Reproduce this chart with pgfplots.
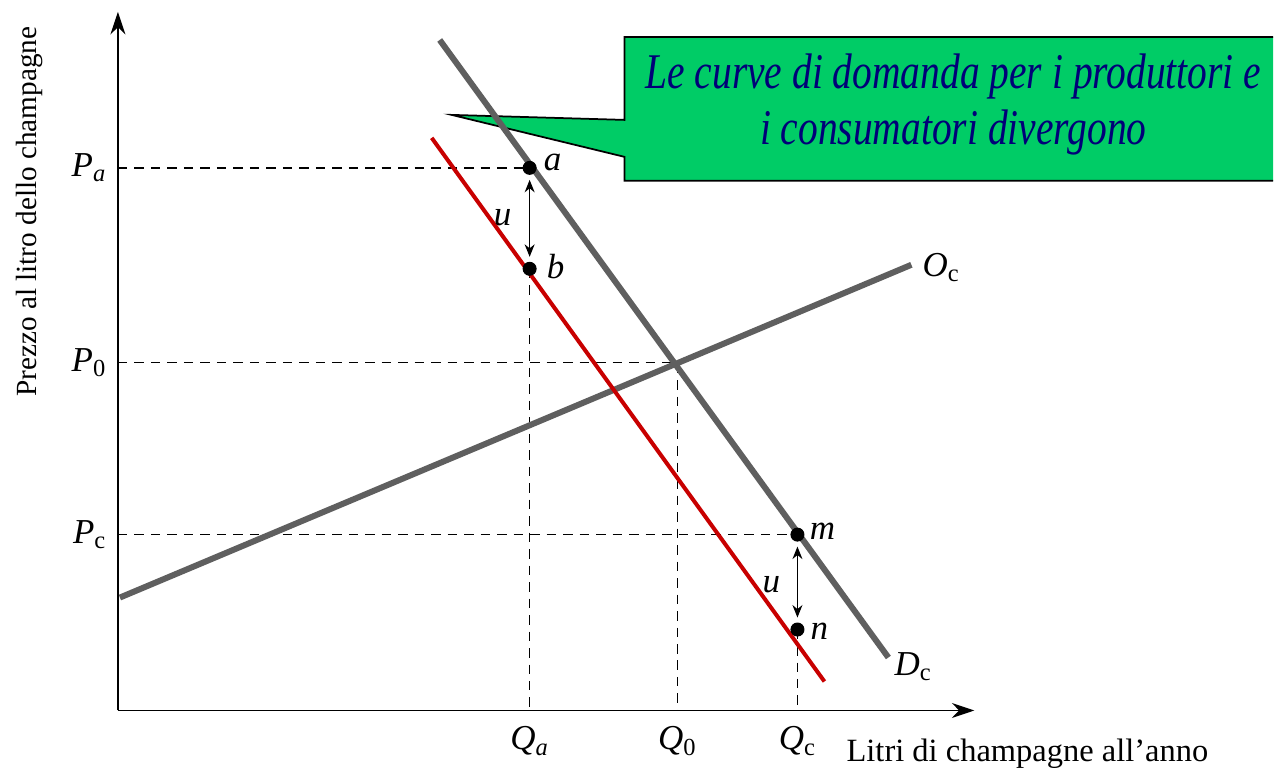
\documentclass[border=0pt]{standalone}
\usepackage{pgfplots}
\pgfplotsset{compat=1.18}
\usepackage{fontspec}
\setmainfont{Liberation Serif}
\usetikzlibrary{arrows.meta}
\definecolor{calloutgreen}{RGB}{0,204,102}
\definecolor{curvegray}{RGB}{95,95,95}
\definecolor{curvered}{RGB}{200,0,0}
\definecolor{textnavy}{RGB}{0,0,120}
\begin{document}
\begin{tikzpicture}
\begin{axis}[
  scale only axis,
  width=342.8pt, height=279.6pt,
  xmin=0, xmax=857, ymin=0, ymax=699,
  axis lines=left,
  axis line style={line width=0.6pt, -{Stealth[length=9pt,width=6pt]}},
  clip=false,
  xtick={412,560,680},
  xticklabels={\textit{Q}\textsubscript{\textit{a}}, \textit{Q}\textsubscript{0}, \textit{Q}\textsubscript{c}},
  ytick={176,348,543},
  yticklabels={\textit{P}\textsubscript{c}, \textit{P}\textsubscript{0}, \textit{P}\textsubscript{\textit{a}}},
  major tick length=0pt,
  tick label style={font=\fontsize{14}{16}\selectfont},
  xticklabel style={yshift=-3pt},
  yticklabel style={xshift=-1pt},
  xlabel={Litri di champagne all’anno},
  xlabel style={at={(axis description cs:1.062,-0.062)}, anchor=center, font=\fontsize{13}{15}\selectfont},
  ylabel={Prezzo al litro dello champagne},
  ylabel style={at={(axis description cs:-0.103,0.714)}, anchor=center, font=\fontsize{11.7}{14}\selectfont},
]
% bounding region
\path (axis cs:-118,-57) rectangle (axis cs:1156,711);
% callout
\fill[calloutgreen] (axis cs:507,674) -- (axis cs:1156,674) -- (axis cs:1156,530) -- (axis cs:507,530) -- (axis cs:507,554) -- (axis cs:334,596) -- (axis cs:507,591) -- cycle;
\draw[black, line width=0.7pt] (axis cs:1156,674) -- (axis cs:507,674) -- (axis cs:507,591) -- (axis cs:334,596) -- (axis cs:507,554) -- (axis cs:507,530) -- (axis cs:1156,530);
\node[textnavy, align=center, xscale=0.79, transform shape, font=\fontsize{20}{22.4}\selectfont\itshape] at (axis cs:836,606) {Le curve di domanda per i produttori e\\i consumatori divergono};
% dashed guides
\addplot[black, line width=0.6pt, dash pattern=on 3.8pt off 2.8pt] coordinates {(0,543) (412,543)};
\addplot[black, line width=0.6pt, dash pattern=on 3.8pt off 2.8pt] coordinates {(0,348) (560,348) (560,0)};
\addplot[black, line width=0.6pt, dash pattern=on 3.8pt off 2.8pt] coordinates {(0,176) (680,176)};
\addplot[black, line width=0.6pt, dash pattern=on 3.8pt off 2.8pt] coordinates {(412,442) (412,0)};
\addplot[black, line width=0.6pt, dash pattern=on 3.8pt off 2.8pt] coordinates {(680,81) (680,0)};
% supply Oc
\addplot[curvegray, line width=2.4pt] coordinates {(2,113) (794,446)};
% demand Dc
\addplot[curvegray, line width=2.4pt] coordinates {(322,671) (771,53)};
% shifted demand (red)
\addplot[curvered, line width=1.6pt] coordinates {(314,573) (707,29)};
% arrows u
\addplot[black, line width=0.5pt, {Stealth[length=5pt,width=4pt]}-{Stealth[length=5pt,width=4pt]}] coordinates {(412,531) (412,454)};
\addplot[black, line width=0.5pt, {Stealth[length=5pt,width=4pt]}-{Stealth[length=5pt,width=4pt]}] coordinates {(680,164) (680,93)};
% points
\addplot[only marks, mark=*, mark size=2.6pt, black] coordinates {(412,543) (412,442) (680,176) (680,81)};
% labels
\node[font=\fontsize{14}{16}\selectfont\itshape] at (axis cs:435,548) {a};
\node[font=\fontsize{14}{16}\selectfont\itshape] at (axis cs:438,444) {b};
\node[font=\fontsize{14}{16}\selectfont\itshape] at (axis cs:705,179) {m};
\node[font=\fontsize{14}{16}\selectfont\itshape] at (axis cs:702,79) {n};
\node[font=\fontsize{14}{16}\selectfont\itshape] at (axis cs:385,493) {u};
\node[font=\fontsize{14}{16}\selectfont\itshape] at (axis cs:654,126) {u};
\node[font=\fontsize{14}{16}\selectfont] at (axis cs:824,443) {\textit{O}\textsubscript{c}};
\node[font=\fontsize{14}{16}\selectfont] at (axis cs:796,44) {\textit{D}\textsubscript{c}};
\end{axis}
\end{tikzpicture}
\end{document}
